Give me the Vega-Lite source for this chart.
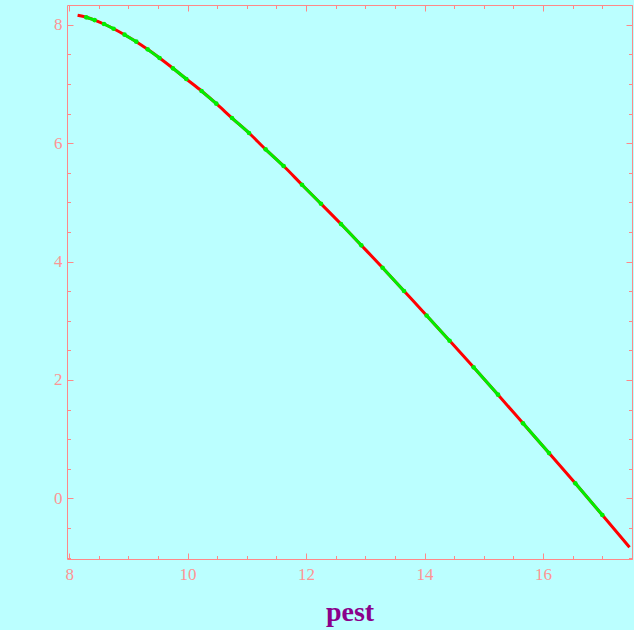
{
  "$schema": "https://vega.github.io/schema/vega-lite/v6.json",
  "autosize": "none",
  "width": 565,
  "height": 554,
  "padding": {"left": 67, "top": 5, "right": 2, "bottom": 71},
  "background": "#BBFFFF",
  "config": {
    "view": {"stroke": "#FF8888", "strokeWidth": 1, "fill": "#BBFFFF"},
    "axis": {
      "grid": false,
      "domain": false,
      "tickColor": "#FF8888",
      "tickWidth": 1,
      "labelFont": "Liberation Serif",
      "labelFontSize": 17,
      "labelColor": "#FF9494",
      "titleFont": "Liberation Serif"
    }
  },
  "resolve": {"axis": {"x": "independent", "y": "independent"}},
  "datasets": {
    "red": [
      {"x": 8.143, "y": 8.159},
      {"x": 8.289, "y": 8.125},
      {"x": 8.430, "y": 8.079},
      {"x": 8.589, "y": 8.012},
      {"x": 8.751, "y": 7.932},
      {"x": 8.936, "y": 7.831},
      {"x": 9.134, "y": 7.713},
      {"x": 9.325, "y": 7.584},
      {"x": 9.527, "y": 7.438},
      {"x": 9.753, "y": 7.264},
      {"x": 9.978, "y": 7.083},
      {"x": 10.236, "y": 6.880},
      {"x": 10.485, "y": 6.666},
      {"x": 10.750, "y": 6.424},
      {"x": 11.037, "y": 6.171},
      {"x": 11.317, "y": 5.895},
      {"x": 11.621, "y": 5.613},
      {"x": 11.931, "y": 5.297},
      {"x": 12.252, "y": 4.976},
      {"x": 12.590, "y": 4.633},
      {"x": 12.933, "y": 4.274},
      {"x": 13.292, "y": 3.895},
      {"x": 13.654, "y": 3.502},
      {"x": 14.035, "y": 3.088},
      {"x": 14.423, "y": 2.662},
      {"x": 14.829, "y": 2.213},
      {"x": 15.241, "y": 1.750},
      {"x": 15.663, "y": 1.267},
      {"x": 16.102, "y": 0.765},
      {"x": 16.546, "y": 0.253},
      {"x": 17.002, "y": -0.282},
      {"x": 17.462, "y": -0.828}
    ],
    "green": [
      {"x": 8.289, "y": 8.125, "seg": 0},
      {"x": 8.430, "y": 8.079, "seg": 0},
      {"x": 8.589, "y": 8.012, "seg": 1},
      {"x": 8.751, "y": 7.932, "seg": 1},
      {"x": 8.936, "y": 7.831, "seg": 2},
      {"x": 9.134, "y": 7.713, "seg": 2},
      {"x": 9.325, "y": 7.584, "seg": 3},
      {"x": 9.527, "y": 7.438, "seg": 3},
      {"x": 9.753, "y": 7.264, "seg": 4},
      {"x": 9.978, "y": 7.083, "seg": 4},
      {"x": 10.236, "y": 6.880, "seg": 5},
      {"x": 10.485, "y": 6.666, "seg": 5},
      {"x": 10.750, "y": 6.424, "seg": 6},
      {"x": 11.037, "y": 6.171, "seg": 6},
      {"x": 11.317, "y": 5.895, "seg": 7},
      {"x": 11.621, "y": 5.613, "seg": 7},
      {"x": 11.931, "y": 5.297, "seg": 8},
      {"x": 12.252, "y": 4.976, "seg": 8},
      {"x": 12.590, "y": 4.633, "seg": 9},
      {"x": 12.933, "y": 4.274, "seg": 9},
      {"x": 13.292, "y": 3.895, "seg": 10},
      {"x": 13.654, "y": 3.502, "seg": 10},
      {"x": 14.035, "y": 3.088, "seg": 11},
      {"x": 14.423, "y": 2.662, "seg": 11},
      {"x": 14.829, "y": 2.213, "seg": 12},
      {"x": 15.241, "y": 1.750, "seg": 12},
      {"x": 15.663, "y": 1.267, "seg": 13},
      {"x": 16.102, "y": 0.765, "seg": 13},
      {"x": 16.546, "y": 0.253, "seg": 14},
      {"x": 17.002, "y": -0.282, "seg": 14}
    ]
  },
  "encoding": {
    "x": {"field": "x", "type": "quantitative", "scale": {"domain": [7.964, 17.503], "nice": false, "zero": false}},
    "y": {"field": "y", "type": "quantitative", "scale": {"domain": [-1.025, 8.333], "nice": false, "zero": false}}
  },
  "layer": [
    {
      "data": {"name": "red"},
      "mark": {"type": "line", "color": "#FF0000", "strokeWidth": 3, "interpolate": "monotone", "clip": true},
      "encoding": {
        "x": {"field": "x", "type": "quantitative", "axis": {"orient": "bottom", "values": [8, 10, 12, 14, 16], "tickSize": -6, "labelPadding": 13, "title": "pest", "titleFontSize": 28, "titleFontWeight": "bold", "titleColor": "#8B008B", "titleBaseline": "alphabetic", "titleY": 61}},
        "y": {"field": "y", "type": "quantitative", "axis": {"orient": "left", "values": [0, 2, 4, 6, 8], "tickSize": -6, "labelPadding": 11, "title": null}}
      }
    },
    {
      "data": {"name": "green"},
      "mark": {"type": "line", "color": "#00EE00", "strokeWidth": 3, "clip": true},
      "encoding": {
        "x": {"field": "x", "type": "quantitative", "axis": {"orient": "top", "values": [8, 10, 12, 14, 16], "tickSize": -6, "labels": false, "title": null}},
        "y": {"field": "y", "type": "quantitative", "axis": {"orient": "right", "values": [0, 2, 4, 6, 8], "tickSize": -6, "labels": false, "title": null}},
        "detail": {"field": "seg", "type": "nominal"}
      }
    },
    {
      "data": {"name": "green"},
      "mark": {"type": "point", "filled": true, "color": "#00EE00", "size": 22, "opacity": 1},
      "encoding": {
        "x": {"field": "x", "type": "quantitative", "axis": {"orient": "bottom", "values": [8, 8.5, 9, 9.5, 10, 10.5, 11, 11.5, 12, 12.5, 13, 13.5, 14, 14.5, 15, 15.5, 16, 16.5, 17, 17.5], "tickSize": -3.5, "labels": false, "title": null}},
        "y": {"field": "y", "type": "quantitative", "axis": {"orient": "left", "values": [-1, -0.5, 0, 0.5, 1, 1.5, 2, 2.5, 3, 3.5, 4, 4.5, 5, 5.5, 6, 6.5, 7, 7.5, 8], "tickSize": -3.5, "labels": false, "title": null}}
      }
    },
    {
      "data": {"name": "red"},
      "mark": {"type": "point", "opacity": 0},
      "encoding": {
        "x": {"field": "x", "type": "quantitative", "axis": {"orient": "top", "values": [8, 8.5, 9, 9.5, 10, 10.5, 11, 11.5, 12, 12.5, 13, 13.5, 14, 14.5, 15, 15.5, 16, 16.5, 17, 17.5], "tickSize": -3.5, "labels": false, "title": null}},
        "y": {"field": "y", "type": "quantitative", "axis": {"orient": "right", "values": [-1, -0.5, 0, 0.5, 1, 1.5, 2, 2.5, 3, 3.5, 4, 4.5, 5, 5.5, 6, 6.5, 7, 7.5, 8], "tickSize": -3.5, "labels": false, "title": null}}
      }
    }
  ]
}
